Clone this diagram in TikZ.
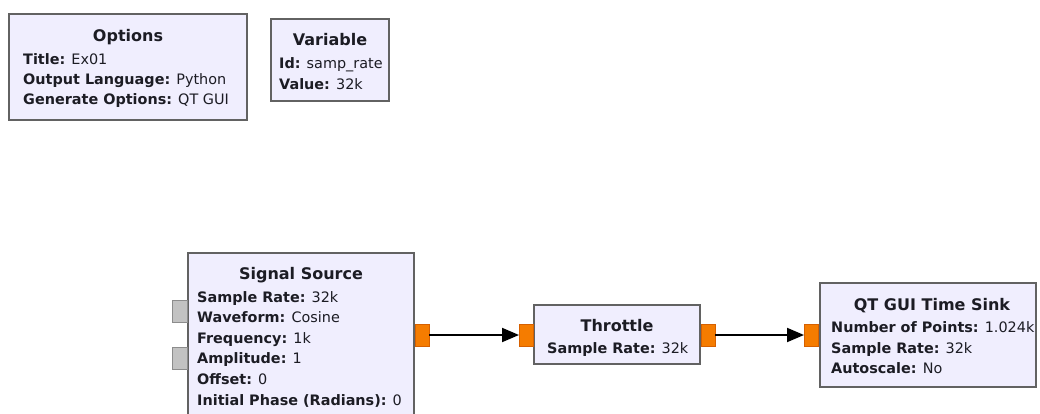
\documentclass[tikz,border=0pt]{standalone}
\usepackage{fontspec}
\setmainfont{DejaVu Sans}
\usetikzlibrary{arrows.meta}

\definecolor{blockfill}{RGB}{240,238,254}
\definecolor{blockline}{RGB}{98,98,98}
\definecolor{portorange}{RGB}{245,124,0}
\definecolor{portorangeline}{RGB}{214,96,0}
\definecolor{portgrey}{RGB}{194,194,194}
\definecolor{portgreyline}{RGB}{140,140,140}
\definecolor{labeltext}{RGB}{28,28,36}

\tikzset{
  block/.style={draw=blockline, fill=blockfill, line width=2pt, rectangle,
    inner sep=0pt, outer sep=0pt, anchor=north west},
  streamport/.style={draw=portorangeline, fill=portorange, line width=1pt,
    rectangle, minimum width=14pt, minimum height=22pt, inner sep=0pt, outer sep=0pt},
  idleport/.style={draw=portgreyline, fill=portgrey, line width=1pt,
    rectangle, minimum width=15pt, minimum height=22pt, inner sep=0pt, outer sep=0pt},
  blocktitle/.style={font=\fontsize{16}{18}\selectfont\bfseries, text=labeltext,
    inner sep=0pt, anchor=base},
  param/.style={font=\fontsize{14.4}{18}\selectfont, text=labeltext,
    inner sep=0pt, anchor=base west},
  flow/.style={line width=2pt, draw=black, -{Triangle[length=17pt,width=14pt]}},
}

\begin{document}
\begin{tikzpicture}[x=1pt, y=-1pt]
  \clip (0,0) rectangle (1040,414);
  \fill[white] (0,0) rectangle (1040,414);

  % Options block
  \node[block, minimum width=238pt, minimum height=106pt] (opt) at (9,14) {};
  \node[blocktitle] (optT) at (128,42) {Options};
  \node[param] (opt1) at (23,65)  {\textbf{Title:} Ex01};
  \node[param] (opt2) at (23,85)  {\textbf{Output Language:} Python};
  \node[param] (opt3) at (23,105) {\textbf{Generate Options:} QT GUI};

  % Variable block
  \node[block, minimum width=118pt, minimum height=82pt] (var) at (271,19) {};
  \node[blocktitle] (varT) at (330,46) {Variable};
  \node[param] (var1) at (279,69)   {\textbf{Id:} samp\_rate};
  \node[param] (var2) at (279,89.5) {\textbf{Value:} 32k};

  % Signal Source block (runs past the lower edge)
  \node[block, minimum width=226pt, minimum height=180pt] (sig) at (188,253) {};
  \node[blocktitle] (sigT) at (301,279) {Signal Source};
  \node[param] (sig1) at (197,302)   {\textbf{Sample Rate:} 32k};
  \node[param] (sig2) at (197,322.6) {\textbf{Waveform:} Cosine};
  \node[param] (sig3) at (197,343.2) {\textbf{Frequency:} 1k};
  \node[param] (sig4) at (197,363.8) {\textbf{Amplitude:} 1};
  \node[param] (sig5) at (197,384.4) {\textbf{Offset:} 0};
  \node[param] (sig6) at (197,405)   {\textbf{Initial Phase (Radians):} 0};
  \node[idleport] (sigin1) at (179.5,311.5) {};
  \node[idleport] (sigin2) at (179.5,358.5) {};
  \node[streamport] (sigout) at (422,335) {};

  % Throttle block
  \node[block, minimum width=166pt, minimum height=59pt] (thr) at (534,305) {};
  \node[blocktitle] (thrT) at (617,331) {Throttle};
  \node[param] (thr1) at (547,353.3) {\textbf{Sample Rate:} 32k};
  \node[streamport] (thrin) at (526,335) {};
  \node[streamport] (throut) at (708,335) {};

  % QT GUI Time Sink block
  \node[block, minimum width=216pt, minimum height=104pt] (sink) at (820,283) {};
  \node[blocktitle] (sinkT) at (932,310) {QT GUI Time Sink};
  \node[param] (sink1) at (831,332.7) {\textbf{Number of Points:} 1.024k};
  \node[param] (sink2) at (831,353.3) {\textbf{Sample Rate:} 32k};
  \node[param] (sink3) at (831,373.3) {\textbf{Autoscale:} No};
  \node[streamport] (sinkin) at (811,335) {};

  % Stream connections
  \draw[flow] (sigout.east) -- (thrin.west);
  \draw[flow] (throut.east) -- (sinkin.west);
\end{tikzpicture}
\end{document}
